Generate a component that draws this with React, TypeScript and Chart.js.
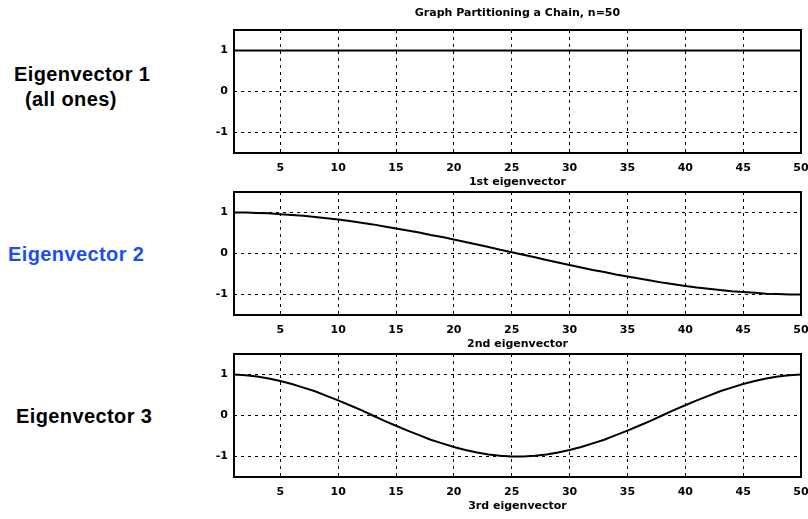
import React, { useEffect, useRef } from "react";
import { Chart, registerables } from "chart.js";

Chart.register(...registerables);

const nodeIndex = [
  1, 2, 3, 4, 5, 6, 7, 8, 9, 10, 11, 12, 13, 14, 15, 16, 17, 18, 19, 20, 21, 22, 23, 24, 25,
  26, 27, 28, 29, 30, 31, 32, 33, 34, 35, 36, 37, 38, 39, 40, 41, 42, 43, 44, 45, 46, 47, 48, 49, 50,
];

const eigenvector1 = [
  1, 1, 1, 1, 1, 1, 1, 1, 1, 1, 1, 1, 1, 1, 1, 1, 1, 1, 1, 1, 1, 1, 1, 1, 1,
  1, 1, 1, 1, 1, 1, 1, 1, 1, 1, 1, 1, 1, 1, 1, 1, 1, 1, 1, 1, 1, 1, 1, 1, 1,
];

const eigenvector2 = [
  1.0, 1.0, 0.99, 0.98, 0.96, 0.94, 0.92, 0.89, 0.86, 0.83, 0.79, 0.75, 0.71, 0.66, 0.61, 0.56,
  0.51, 0.45, 0.4, 0.34, 0.28, 0.22, 0.16, 0.09, 0.03, -0.03, -0.09, -0.16, -0.22, -0.28, -0.34,
  -0.4, -0.45, -0.51, -0.56, -0.61, -0.66, -0.71, -0.75, -0.79, -0.83, -0.86, -0.89, -0.92, -0.94,
  -0.96, -0.98, -0.99, -1.0, -1.0,
];

const eigenvector3 = [
  1.0, 0.98, 0.95, 0.9, 0.84, 0.77, 0.68, 0.59, 0.48, 0.37, 0.25, 0.13, 0.0, -0.13, -0.25, -0.37,
  -0.48, -0.59, -0.68, -0.77, -0.84, -0.9, -0.95, -0.98, -1.0, -1.0, -0.98, -0.95, -0.9, -0.84,
  -0.77, -0.68, -0.59, -0.48, -0.37, -0.25, -0.13, 0.0, 0.13, 0.25, 0.37, 0.48, 0.59, 0.68, 0.77,
  0.84, 0.9, 0.95, 0.98, 1.0,
];

const xTickValues = [5, 10, 15, 20, 25, 30, 35, 40, 45, 50];
const yTickValues = [-1, 0, 1];

const chartTitle = "Graph Partitioning a Chain, n=50";
const axisTitles = ["1st eigenvector", "2nd eigenvector", "3rd eigenvector"];

const AXIS_FONT = { family: "'DejaVu Sans', sans-serif", size: 11, weight: "bold" as const };

const framePlugin = {
  id: "frameBox",
  afterDraw(chart: any) {
    const { ctx, chartArea: a } = chart;
    ctx.save();
    ctx.strokeStyle = "#000";
    ctx.lineWidth = 2;
    ctx.strokeRect(a.left, a.top, a.right - a.left, a.bottom - a.top);
    ctx.restore();
  },
};

function Panel({ values, axisTitle, title, top }: { values: number[]; axisTitle: string; title: string; top: number }) {
  const ref = useRef<HTMLCanvasElement | null>(null);
  useEffect(() => {
    if (!ref.current) return;
    const points = nodeIndex.map((x, i) => ({ x, y: values[i] }));
    const gridCommon = { color: "#000", lineWidth: 1, drawTicks: false };
    const chart = new Chart(ref.current, {
      type: "line",
      data: {
        datasets: [
          {
            data: points,
            borderColor: "#000",
            borderWidth: 2,
            pointRadius: 0,
            tension: 0,
            fill: false,
          },
        ],
      },
      plugins: [framePlugin],
      options: {
        responsive: false,
        animation: false,
        layout: { padding: { top: 0, right: 7, left: 0, bottom: 0 } },
        plugins: {
          legend: { display: false },
          tooltip: { enabled: false },
          title: { display: false },
        },
        scales: {
          x: {
            type: "linear",
            position: "bottom",
            min: 1,
            max: 50,
            afterBuildTicks: (s: any) => {
              s.ticks = xTickValues.map((v) => ({ value: v }));
            },
            afterFit: (s: any) => {
              s.height = 37;
              s.paddingLeft = 0;
              s.paddingRight = 0;
            },
            grid: gridCommon,
            border: { display: false, dash: [3, 4] },
            ticks: { color: "#000", font: AXIS_FONT, padding: 9, maxRotation: 0, autoSkip: false },
            title: {
              display: true,
              text: axisTitle,
              color: "#000",
              font: AXIS_FONT,
              padding: { top: 0, bottom: 1 },
            },
          },
          x2: {
            type: "linear",
            position: "top",
            min: 1,
            max: 50,
            afterFit: (s: any) => {
              s.height = 30;
              s.paddingLeft = 0;
              s.paddingRight = 0;
            },
            grid: { display: false, drawTicks: false },
            border: { display: false },
            ticks: { display: false },
            title: {
              display: title.length > 0,
              text: title,
              color: "#000",
              font: AXIS_FONT,
              padding: { top: 7, bottom: 10 },
            },
          },
          y: {
            type: "linear",
            min: -1.5,
            max: 1.5,
            afterBuildTicks: (s: any) => {
              s.ticks = yTickValues.map((v) => ({ value: v }));
            },
            afterFit: (s: any) => {
              s.width = 54;
              s.paddingTop = 0;
              s.paddingBottom = 0;
            },
            grid: gridCommon,
            border: { display: false, dash: [3, 4] },
            ticks: { color: "#000", font: AXIS_FONT, padding: 6 },
          },
        },
      },
    });
    return () => chart.destroy();
  }, [values, axisTitle, title]);
  return (
    <canvas
      ref={ref}
      width={628}
      height={190}
      style={{ position: "absolute", left: 180, top, width: 628, height: 190 }}
    />
  );
}

const labelStyle: React.CSSProperties = {
  position: "absolute",
  fontFamily: "'Liberation Sans', Arial, sans-serif",
  fontWeight: "bold",
  fontSize: 20,
  lineHeight: "25px",
  letterSpacing: "0.4px",
  whiteSpace: "nowrap",
  color: "#000",
};

export default function App() {
  return (
    <div style={{ position: "absolute", left: 0, top: 0, width: 808, height: 519, background: "#fff", overflow: "hidden" }}>
      <Panel values={eigenvector1} axisTitle={axisTitles[0]} title={chartTitle} top={0} />
      <Panel values={eigenvector2} axisTitle={axisTitles[1]} title="" top={162} />
      <Panel values={eigenvector3} axisTitle={axisTitles[2]} title="" top={324} />
      <div style={{ ...labelStyle, left: 14, top: 62 }}>Eigenvector 1</div>
      <div style={{ ...labelStyle, left: 25, top: 87 }}>(all ones)</div>
      <div style={{ ...labelStyle, left: 8, top: 242, color: "#1c4ff2" }}>Eigenvector 2</div>
      <div style={{ ...labelStyle, left: 16, top: 404 }}>Eigenvector 3</div>
    </div>
  );
}
